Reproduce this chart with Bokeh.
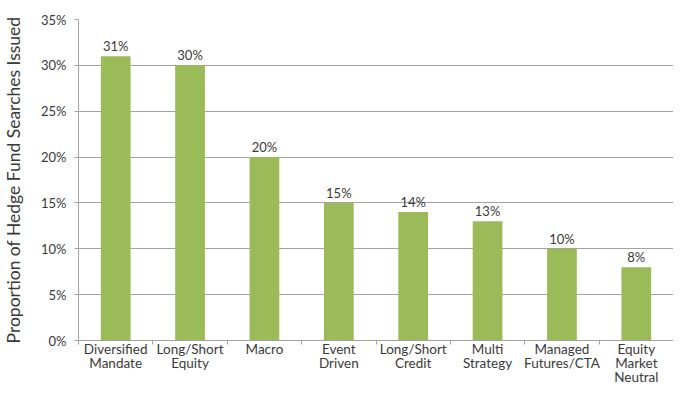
from bokeh.plotting import figure
from bokeh.models import ColumnDataSource, FixedTicker, PrintfTickFormatter, Range1d, LabelSet
from bokeh.core.properties import value
from bokeh.embed import file_html
from bokeh.resources import INLINE

categories = ["Diversified\nMandate", "Long/Short\nEquity", "Macro", "Event\nDriven",
              "Long/Short\nCredit", "Multi\nStrategy", "Managed\nFutures/CTA",
              "Equity\nMarket\nNeutral"]
values = [31, 30, 20, 15, 14, 13, 10, 8]
y_ticks = [0, 5, 10, 15, 20, 25, 30, 35]
y_label = "Proportion of Hedge Fund Searches Issued"

FONT = "Lato"
TXT = "#3a3a3a"
GRID = "#a3a3a3"
BAR = "#9bbb59"

xs = [i + 0.5 for i in range(len(categories))]
src = ColumnDataSource(dict(
    x=xs, top=values, lab=[f"{v}%" for v in values]))

p = figure(width=673, height=387, x_range=Range1d(0, len(categories)),
           y_range=Range1d(0, 35), output_backend="svg", toolbar_location=None,
           min_border_left=77, min_border_right=0, min_border_top=19,
           min_border_bottom=30)
p.outline_line_color = None
p.background_fill_color = "white"
p.border_fill_color = "white"

p.vbar(x="x", top="top", width=0.4, source=src, fill_color=BAR, line_color=None)

# y axis
p.yaxis.ticker = FixedTicker(ticks=y_ticks)
p.yaxis.formatter = PrintfTickFormatter(format="%d%%")
p.yaxis.axis_line_color = GRID
p.yaxis.major_tick_line_color = GRID
p.yaxis.major_tick_out = 4
p.yaxis.major_tick_in = 0
p.yaxis.minor_tick_line_color = None
p.yaxis.major_label_text_font = FONT
p.yaxis.major_label_text_font_size = "13px"
p.yaxis.major_label_text_color = TXT
p.yaxis.major_label_standoff = 8
p.yaxis.axis_label = y_label
p.yaxis.axis_label_text_font = FONT
p.yaxis.axis_label_text_font_size = "17.5px"
p.yaxis.axis_label_text_font_style = "normal"
p.yaxis.axis_label_text_color = TXT
p.yaxis.axis_label_standoff = 14

p.ygrid.ticker = FixedTicker(ticks=y_ticks)
p.ygrid.grid_line_color = GRID
p.xgrid.grid_line_color = None

# x axis: labels at centres, ticks at category boundaries
p.xaxis.ticker = FixedTicker(ticks=xs, minor_ticks=list(range(len(categories) + 1)))
p.xaxis.major_label_overrides = {x: c for x, c in zip(xs, categories)}
p.xaxis.axis_line_color = GRID
p.xaxis.minor_tick_line_color = GRID
p.xaxis.minor_tick_out = 4
p.xaxis.minor_tick_in = 0
p.xaxis.major_tick_line_color = None
p.xaxis.major_tick_out = 0
p.xaxis.major_tick_in = 0
p.xaxis.major_label_standoff = -4
p.xaxis.major_label_text_font = FONT
p.xaxis.major_label_text_font_size = "13.5px"
p.xaxis.major_label_text_color = TXT
p.xaxis.major_label_text_line_height = 0.88

# value labels
p.add_layout(LabelSet(x="x", y="top", text="lab", source=src, text_align="center",
                      text_baseline="bottom", y_offset=2, text_font=value(FONT),
                      text_font_size=value("13px"), text_color=TXT))

open("out.html", "w").write(file_html(p, INLINE))
